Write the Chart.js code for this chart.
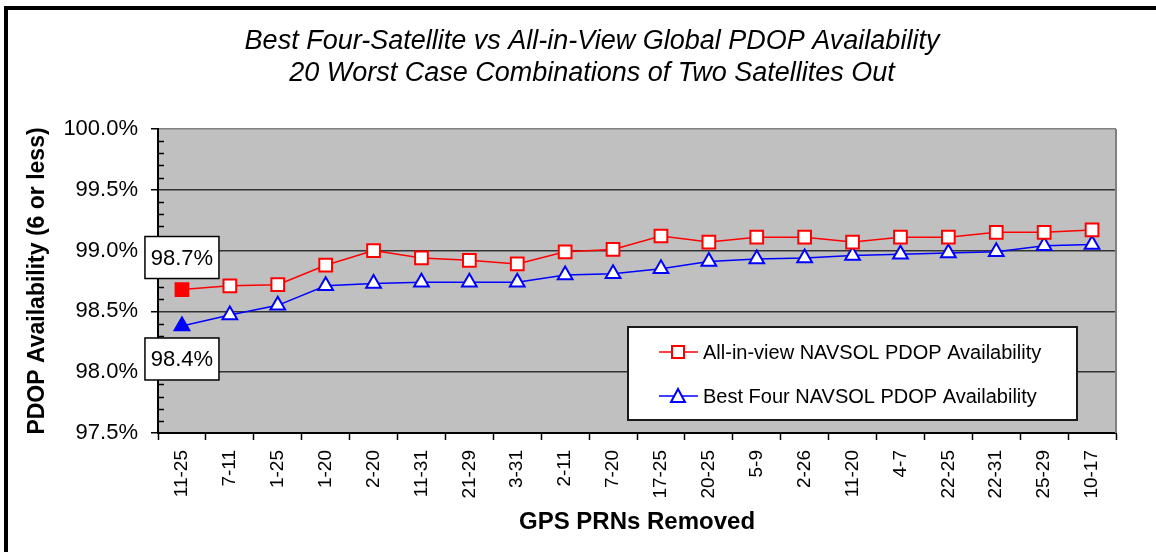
<!DOCTYPE html>
<html lang="en">
<head>
<meta charset="UTF-8">
<title>Best Four vs All-in-View PDOP Availability</title>
<script src="https://cdn.jsdelivr.net/npm/chart.js"></script>
<style>
    body { margin: 0; background: #fff; }
    #wrap { width: 1156px; height: 552px; }
</style>
</head>
<body>
<div id="wrap"><canvas id="pdopChart" width="1156" height="552"></canvas></div>
<script>
    const prnPairs = ['11-25', '7-11', '1-25', '1-20', '2-20', '11-31', '21-29', '3-31', '2-11', '7-20',
                      '17-25', '20-25', '5-9', '2-26', '11-20', '4-7', '22-25', '22-31', '25-29', '10-17'];
    const allInView = [98.68, 98.71, 98.72, 98.88, 99.00, 98.94, 98.92, 98.89, 98.99, 99.01,
                       99.12, 99.07, 99.11, 99.11, 99.07, 99.11, 99.11, 99.15, 99.15, 99.17];
    const bestFour = [98.38, 98.47, 98.55, 98.71, 98.73, 98.74, 98.74, 98.74, 98.80, 98.81,
                      98.85, 98.91, 98.93, 98.94, 98.96, 98.97, 98.98, 98.99, 99.04, 99.05];
    const yTicks = [97.5, 98.0, 98.5, 99.0, 99.5, 100.0];
    const seriesNames = ['All-in-view NAVSOL PDOP Availability', 'Best Four NAVSOL PDOP Availability'];
    const titleLines = ['Best Four-Satellite vs All-in-View Global PDOP Availability',
                        '20 Worst Case Combinations of Two Satellites Out'];

    const FONT = '"Liberation Sans", Arial, sans-serif';
    Chart.defaults.font.family = FONT;
    Chart.defaults.color = '#000';

    // little marker helper, used by the legend box
    function marker(ctx, style, x, y, size, stroke, fill) {
        ctx.beginPath();
        if (style === 'rect') {
            ctx.rect(x - size / 2, y - size / 2, size, size);
        } else {
            const h = size * 0.87;
            ctx.moveTo(x, y - h / 2 - 1);
            ctx.lineTo(x + size / 2, y + h / 2);
            ctx.lineTo(x - size / 2, y + h / 2);
            ctx.closePath();
        }
        ctx.fillStyle = fill;
        ctx.fill();
        ctx.lineWidth = 2;
        ctx.strokeStyle = stroke;
        ctx.stroke();
    }

    const framePlugin = {
        id: 'frame',
        beforeDraw(chart) {
            const { ctx, chartArea: a, width, height } = chart;
            ctx.save();
            ctx.fillStyle = '#fff';
            ctx.fillRect(0, 0, width, height);
            ctx.fillStyle = '#000';
            ctx.fillRect(4, 6, width - 4, 4);
            ctx.fillRect(4, 6, 4, height - 6);
            ctx.fillStyle = '#c0c0c0';
            ctx.fillRect(a.left, a.top, a.right - a.left, a.bottom - a.top);

            // chart title, two italic lines
            ctx.fillStyle = '#000';
            ctx.font = 'italic 27px ' + FONT;
            ctx.textAlign = 'center';
            ctx.textBaseline = 'middle';
            titleLines.forEach((t, i) => ctx.fillText(t, 592, 41 + i * 32));
            ctx.restore();
        },
        beforeDatasetsDraw(chart) {
            const { ctx, chartArea: a, scales } = chart;
            ctx.save();
            // right edge of plot area
            ctx.strokeStyle = '#808080';
            ctx.lineWidth = 2;
            ctx.beginPath();
            ctx.moveTo(a.right, a.top);
            ctx.lineTo(a.right, a.bottom);
            ctx.stroke();
            // minor ticks every 0.1%
            ctx.strokeStyle = '#000';
            ctx.lineWidth = 1.5;
            for (let k = 976; k < 1000; k++) {
                if (k % 5 === 0) continue;
                const py = Math.round(scales.y.getPixelForValue(k / 10)) + 0.5;
                ctx.beginPath();
                ctx.moveTo(a.left, py);
                ctx.lineTo(a.left + 6, py);
                ctx.stroke();
            }
            ctx.restore();
        },
        afterDraw(chart) {
            const { ctx, chartArea: a } = chart;
            ctx.save();

            // value boxes on the first point of each series
            [[0, -32], [1, 33]].forEach(([di, dy]) => {
                const pt = chart.getDatasetMeta(di).data[0];
                const val = chart.data.datasets[di].data[0];
                const cx = pt.x, cy = pt.y + dy;
                ctx.fillStyle = '#fff';
                ctx.fillRect(cx - 37, cy - 21, 74, 42);
                ctx.strokeStyle = '#000';
                ctx.lineWidth = 1.5;
                ctx.strokeRect(cx - 37, cy - 21, 74, 42);
                ctx.fillStyle = '#000';
                ctx.font = '22px ' + FONT;
                ctx.textAlign = 'center';
                ctx.textBaseline = 'middle';
                ctx.fillText(val.toFixed(1) + '%', cx, cy + 1);
            });

            // legend box inside the plot
            const bw = 449, bh = 93;
            const bx = a.right - 39 - bw, by = a.bottom - 13 - bh;
            ctx.fillStyle = '#fff';
            ctx.fillRect(bx, by, bw, bh);
            ctx.strokeStyle = '#1a1a1a';
            ctx.lineWidth = 2;
            ctx.strokeRect(bx, by, bw, bh);
            chart.data.datasets.forEach((ds, i) => {
                const ry = by + 25 + i * 44;
                ctx.strokeStyle = ds.borderColor;
                ctx.lineWidth = 1.5;
                ctx.beginPath();
                ctx.moveTo(bx + 31, ry);
                ctx.lineTo(bx + 70, ry);
                ctx.stroke();
                marker(ctx, ds.pointStyle, bx + 50, ry, i === 0 ? 12 : 14, ds.borderColor, '#fff');
                ctx.fillStyle = '#000';
                ctx.font = '20px ' + FONT;
                ctx.textAlign = 'left';
                ctx.textBaseline = 'middle';
                ctx.fillText(ds.label, bx + 75, ry + 1);
            });
            ctx.restore();
        }
    };

    new Chart(document.getElementById('pdopChart'), {
        type: 'line',
        data: {
            labels: prnPairs,
            datasets: [{
                label: seriesNames[0],
                data: allInView,
                borderColor: '#ff0000',
                borderWidth: 1.5,
                pointStyle: 'rect',
                pointRadius: 9,
                pointHoverRadius: 9,
                pointBorderWidth: 2,
                pointBorderColor: '#ff0000',
                pointBackgroundColor: allInView.map((v, i) => i === 0 ? '#ff0000' : '#ffffff'),
                tension: 0
            }, {
                label: seriesNames[1],
                data: bestFour,
                borderColor: '#0000ff',
                borderWidth: 1.5,
                pointStyle: 'triangle',
                pointRadius: 8.5,
                pointHoverRadius: 8.5,
                pointBorderWidth: 2,
                pointBorderColor: '#0000ff',
                pointBackgroundColor: bestFour.map((v, i) => i === 0 ? '#0000ff' : '#ffffff'),
                tension: 0
            }]
        },
        options: {
            responsive: false,
            animation: false,
            devicePixelRatio: 1,
            layout: { padding: { left: 0, right: 40, top: 129, bottom: 0 } },
            plugins: {
                legend: { display: false },
                tooltip: { enabled: false },
                title: { display: false }
            },
            scales: {
                x: {
                    offset: true,
                    afterFit(s) { s.height = 119; },
                    grid: { offset: true, drawOnChartArea: false, tickLength: 7, tickColor: '#000', tickWidth: 1.5 },
                    border: { color: '#000', width: 2 },
                    ticks: { autoSkip: false, minRotation: 90, maxRotation: 90, padding: 10, font: { size: 19 } },
                    title: {
                        display: true,
                        text: 'GPS PRNs Removed',
                        font: { size: 24, weight: 'bold' },
                        padding: { top: 0, bottom: 15 }
                    }
                },
                y: {
                    min: 97.5,
                    max: 100,
                    afterFit(s) { s.width = 158; },
                    afterBuildTicks(s) { s.ticks = yTicks.map(v => ({ value: v })); },
                    ticks: { padding: 13, font: { size: 22 }, callback: v => v.toFixed(1) + '%' },
                    grid: {
                        color: c => c.tick.value === 100 ? '#808080' : (c.tick.value === 97.5 ? 'rgba(0,0,0,0)' : '#333'),
                        lineWidth: 1.5,
                        tickColor: '#000',
                        tickWidth: 1.5,
                        tickLength: 7
                    },
                    border: { color: '#000', width: 2 },
                    title: {
                        display: true,
                        text: 'PDOP Availability (6 or less)',
                        font: { size: 23, weight: 'bold' },
                        padding: { top: 24, bottom: 0 }
                    }
                }
            }
        },
        plugins: [framePlugin]
    });
</script>
</body>
</html>
